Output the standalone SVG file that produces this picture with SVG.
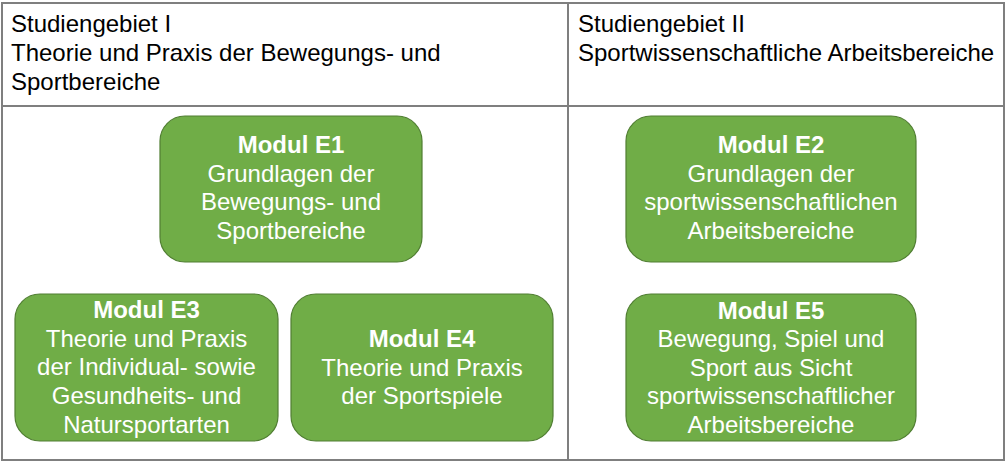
<svg xmlns="http://www.w3.org/2000/svg" width="1006" height="462" viewBox="0 0 1006 462">
<style>
.t{font-family:"Liberation Sans",Arial,sans-serif;font-size:24px;fill:#000}
.n rect{fill:#70AD47;stroke:#507E32;stroke-width:1.2}
.n text{font-family:"Liberation Sans",Arial,sans-serif;font-size:24px;fill:#fff;text-anchor:middle}
.b{font-weight:bold}
.grid line{stroke:#7f7f7f;stroke-width:2}
</style>
<rect width="1006" height="462" fill="#fff"/>
<g class="grid" id="table">
<line x1="2" y1="3" x2="1004" y2="3"/>
<line x1="2" y1="106" x2="1004" y2="106"/>
<line x1="2" y1="460" x2="1004" y2="460"/>
<line x1="2" y1="2" x2="2" y2="461"/>
<line x1="568" y1="2" x2="568" y2="461"/>
<line x1="1004" y1="2" x2="1004" y2="461"/>
</g>
<g id="header1">
<text class="t" x="11" y="32">Studiengebiet I</text>
<text class="t" x="11" y="61">Theorie und Praxis der Bewegungs- und</text>
<text class="t" x="11" y="90">Sportbereiche</text>
</g>
<g id="header2">
<text class="t" x="578" y="32">Studiengebiet II</text>
<text class="t" x="578" y="61">Sportwissenschaftliche Arbeitsbereiche</text>
</g>
<g id="connectors"></g>
<g class="n" id="E1">
<rect x="160" y="116" width="262" height="146" rx="25"/>
<text x="291" y="153" class="b">Modul E1</text>
<text x="291" y="182">Grundlagen der</text>
<text x="291" y="210">Bewegungs- und</text>
<text x="291" y="239">Sportbereiche</text>
</g>
<g class="n" id="E2">
<rect x="626" y="116" width="290" height="146" rx="25"/>
<text x="771" y="153" class="b">Modul E2</text>
<text x="771" y="182">Grundlagen der</text>
<text x="771" y="210">sportwissenschaftlichen</text>
<text x="771" y="239">Arbeitsbereiche</text>
</g>
<g class="n" id="E3">
<rect x="15" y="294" width="263" height="147" rx="25"/>
<text x="146.5" y="318" class="b">Modul E3</text>
<text x="146.5" y="347">Theorie und Praxis</text>
<text x="146.5" y="375">der Individual- sowie</text>
<text x="146.5" y="404">Gesundheits- und</text>
<text x="146.5" y="433">Natursportarten</text>
</g>
<g class="n" id="E4">
<rect x="291" y="294" width="262" height="147" rx="25"/>
<text x="422" y="347" class="b">Modul E4</text>
<text x="422" y="376">Theorie und Praxis</text>
<text x="422" y="404">der Sportspiele</text>
</g>
<g class="n" id="E5">
<rect x="626" y="294" width="290" height="147" rx="25"/>
<text x="771" y="319" class="b">Modul E5</text>
<text x="771" y="347">Bewegung, Spiel und</text>
<text x="771" y="376">Sport aus Sicht</text>
<text x="771" y="404">sportwissenschaftlicher</text>
<text x="771" y="433">Arbeitsbereiche</text>
</g>
</svg>
